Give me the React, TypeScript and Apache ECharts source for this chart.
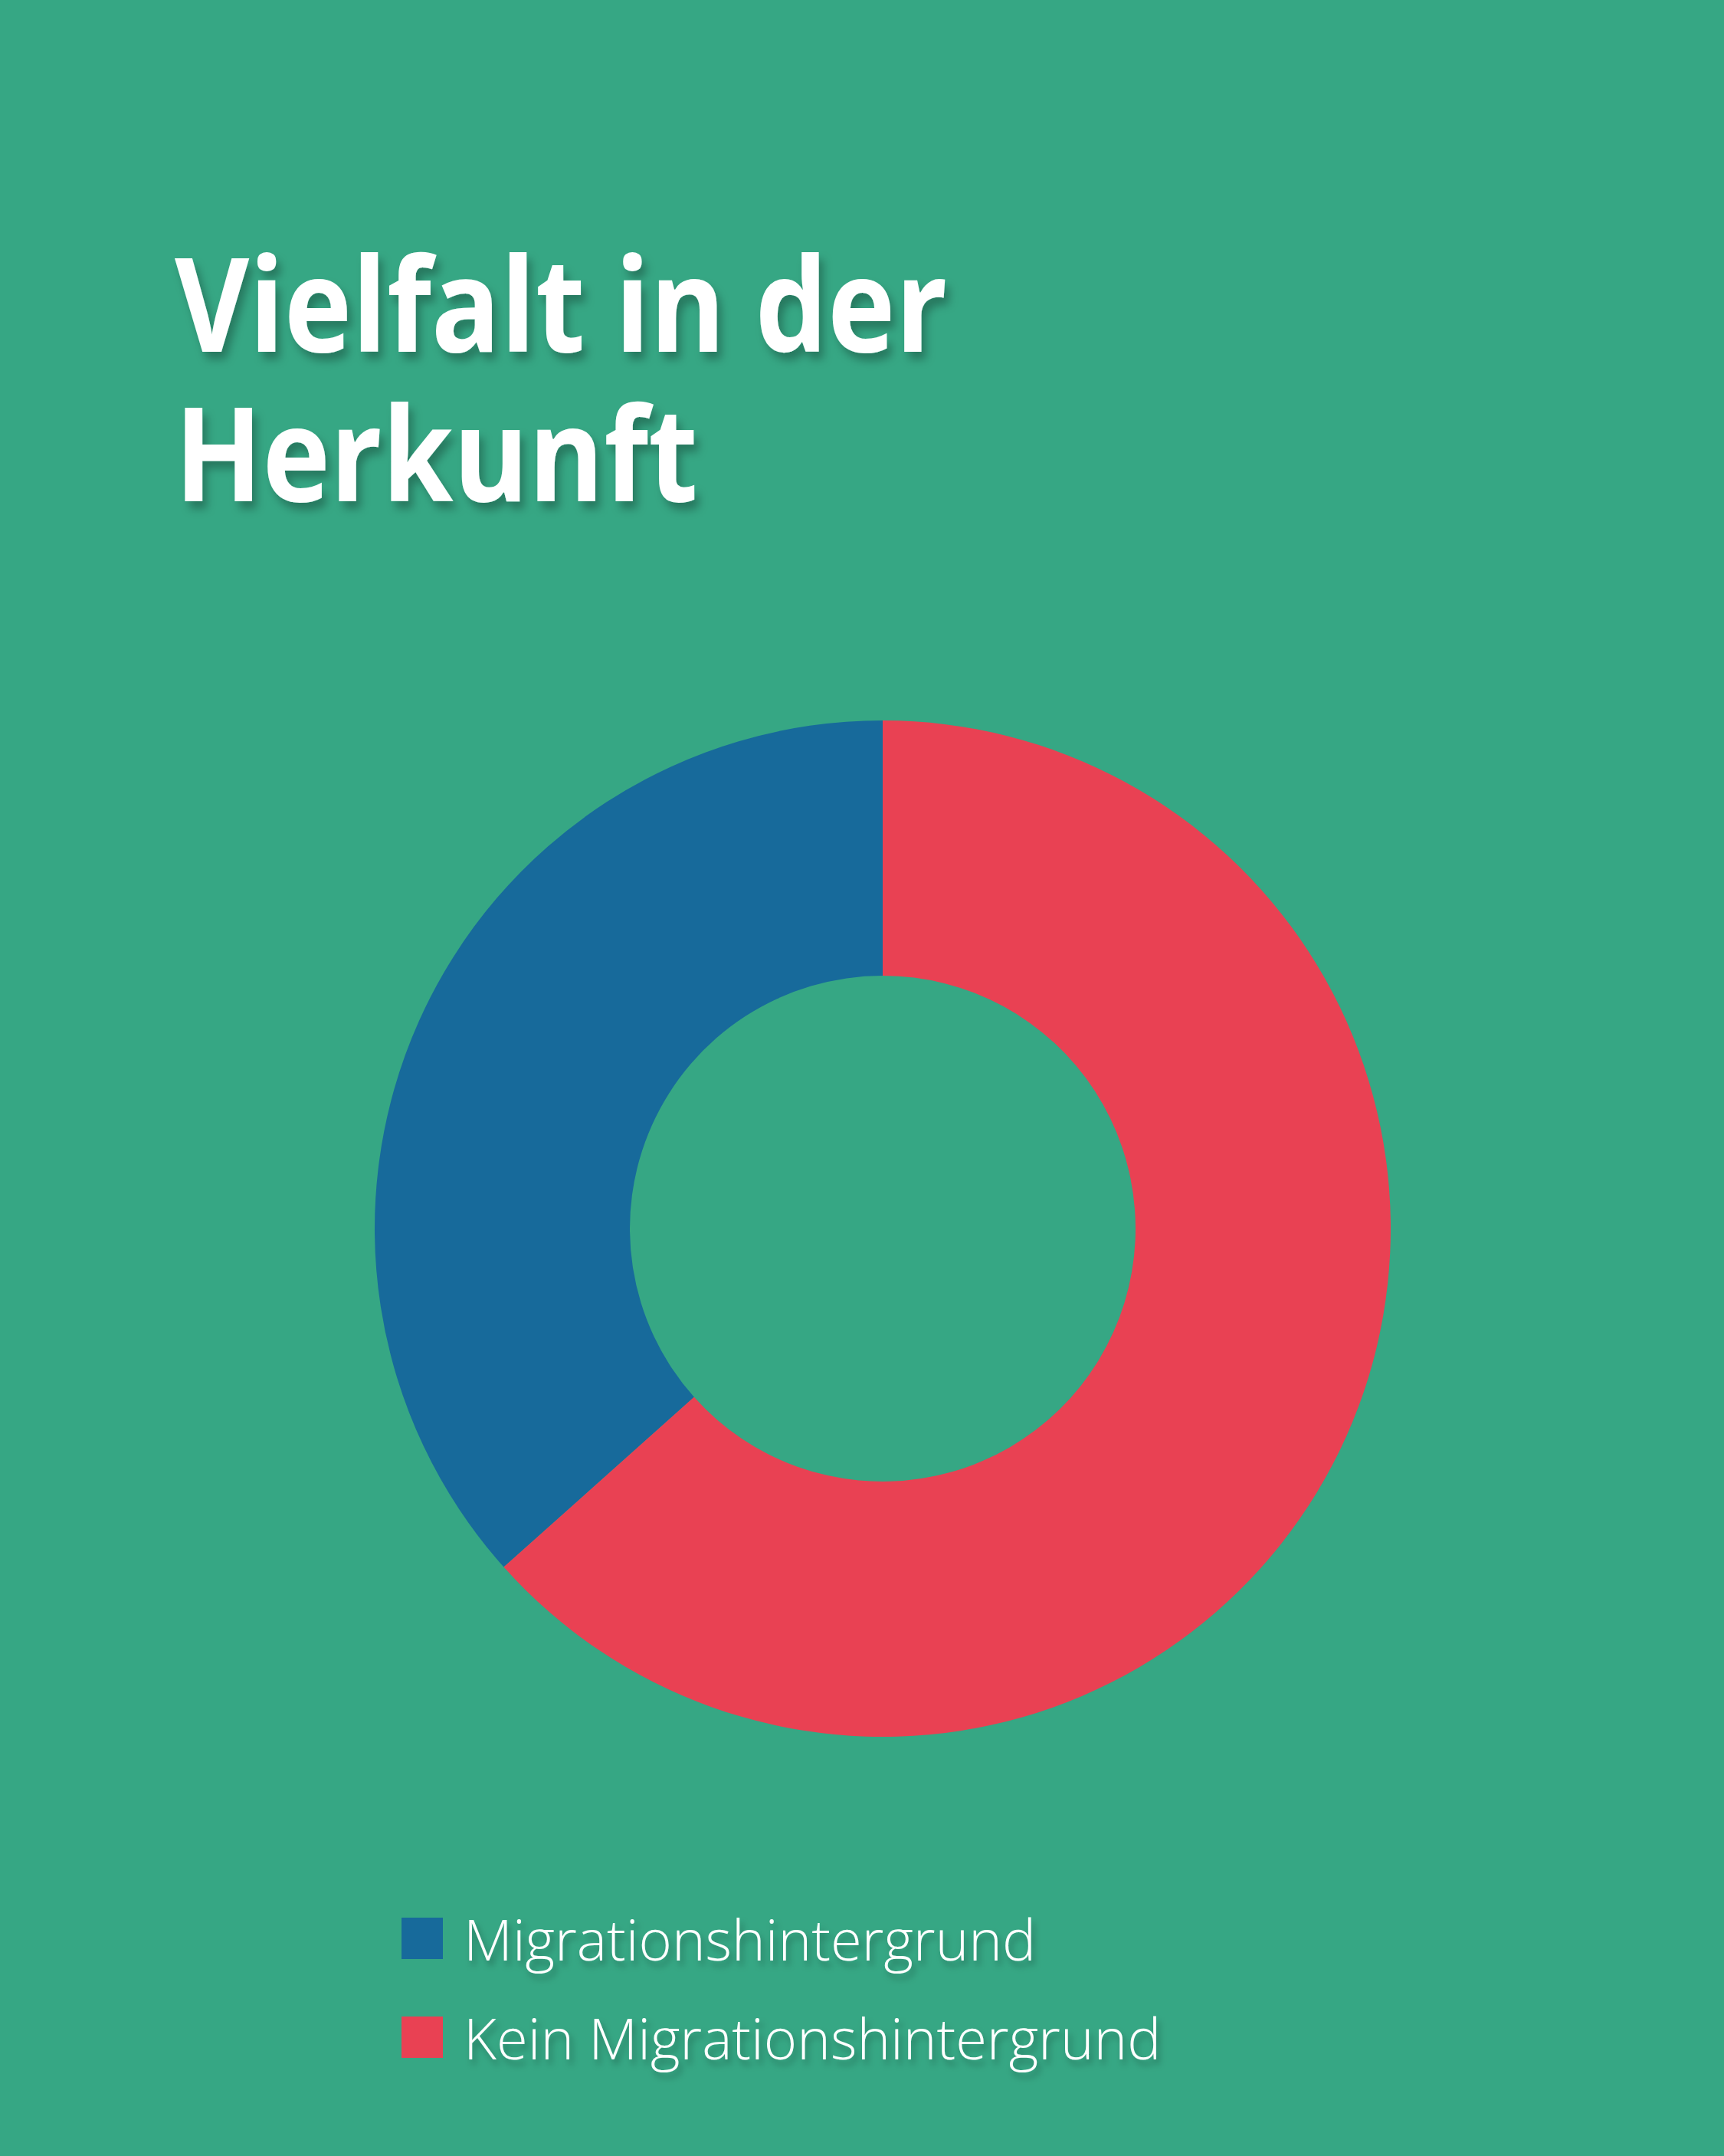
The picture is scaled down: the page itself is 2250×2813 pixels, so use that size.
import React, { useEffect, useRef } from "react";
import * as echarts from "echarts";

const categories = ["Migrationshintergrund", "Kein Migrationshintergrund"];
const values = [36.6, 63.4];
const colors = ["#176A9B", "#E94153"];
const titleLines = ["Vielfalt in der", "Herkunft"];

const BG = "#36A784";

export default function App() {
  const ref = useRef<HTMLDivElement>(null);
  useEffect(() => {
    if (!ref.current) return;
    const chart = echarts.init(ref.current, null, { renderer: "svg" });
    const shadow = {
      textShadowColor: "rgba(0,0,0,0.28)",
      textShadowBlur: 12,
      textShadowOffsetX: 6,
      textShadowOffsetY: 10,
    };
    chart.setOption({
      animation: false,
      backgroundColor: BG,
      graphic: titleLines.map((line, i) => ({
        type: "text",
        x: 228,
        y: 393 + i * 195,
        scaleX: 0.88,
        style: {
          text: line,
          fill: "#ffffff",
          font: "bold 170px 'Open Sans'",
          verticalAlign: "middle",
          align: "left",
          ...shadow,
        },
      })),
      legend: {
        orient: "vertical",
        left: 524,
        top: 2492,
        itemWidth: 54,
        itemHeight: 54,
        itemGap: 55,
        icon: "rect",
        padding: 0,
        selectedMode: false,
        data: categories,
        textStyle: {
          color: "#ffffff",
          fontSize: 74,
          fontWeight: 300,
          fontFamily: "Open Sans",
          padding: [0, 0, 0, 22],
          ...shadow,
          textShadowBlur: 8,
          textShadowOffsetX: 4,
          textShadowOffsetY: 7,
        },
      },
      series: [
        {
          type: "pie",
          center: [1152, 1603],
          radius: [330, 663],
          startAngle: 90,
          clockwise: false,
          silent: true,
          label: { show: false },
          labelLine: { show: false },
          itemStyle: { borderWidth: 0 },
          emphasis: { disabled: true },
          data: categories.map((name, i) => ({
            name,
            value: values[i],
            itemStyle: { color: colors[i] },
          })),
        },
      ],
    });
    return () => chart.dispose();
  }, []);
  return (
    <div
      ref={ref}
      style={{ position: "absolute", left: 0, top: 0, width: 2250, height: 2813 }}
    />
  );
}
